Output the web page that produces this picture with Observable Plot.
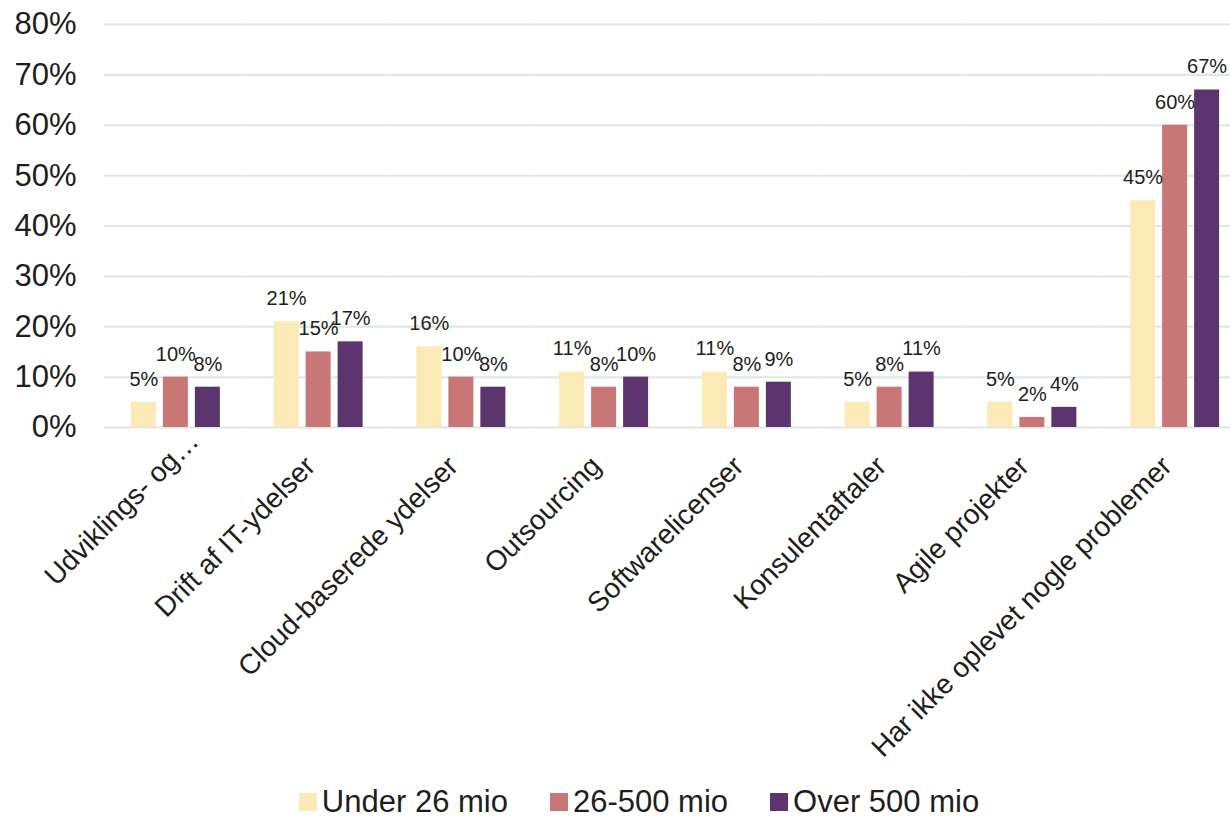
<!DOCTYPE html>
<html>
<head>
<meta charset="utf-8">
<script src="https://cdn.jsdelivr.net/npm/d3@7"></script>
<script src="https://cdn.jsdelivr.net/npm/@observablehq/plot@0.6"></script>
<style>
  html, body { margin: 0; padding: 0; background: #fff; overflow: hidden; }
  body { width: 1230px; height: 817px; font-family: "Liberation Sans", Arial, sans-serif; color: #201d1a; }
  #legend { display: flex; justify-content: center; align-items: center; height: 30px; line-height: 30px; margin-top: 5px; padding-left: 48px; font-size: 31px; }
  .item { display: flex; align-items: center; margin: 0 21px; }
  .sw { width: 18px; height: 18px; margin-right: 5px; }
</style>
</head>
<body>
<div id="chart"></div>
<div id="legend"></div>
<script>
const categories = [
  "Udviklings- og…",
  "Drift af IT-ydelser",
  "Cloud-baserede ydelser",
  "Outsourcing",
  "Softwarelicenser",
  "Konsulentaftaler",
  "Agile projekter",
  "Har ikke oplevet nogle problemer"
];
const series = ["Under 26 mio", "26-500 mio", "Over 500 mio"];
const under26 = [5, 21, 16, 11, 11, 5, 5, 45];
const mid26to500 = [10, 15, 10, 8, 8, 8, 2, 60];
const over500 = [8, 17, 8, 10, 9, 11, 4, 67];
const colors = ["#FBEAB5", "#C97677", "#5C356E"];
const yTicks = [0, 10, 20, 30, 40, 50, 60, 70, 80];

const valuesBySeries = [under26, mid26to500, over500];
const data = categories.flatMap((c, i) =>
  series.map((s, j) => ({cat: c, ser: s, v: valuesBySeries[j][i]}))
);

const firstCat = categories[0];
const chart = Plot.plot({
  width: 1230,
  height: 782,
  marginLeft: 104,
  marginRight: -16,
  marginTop: 24,
  marginBottom: 355,
  style: {fontFamily: '"Liberation Sans", Arial, sans-serif', color: "#201d1a", background: "#fff", overflow: "hidden"},
  fx: {domain: categories, padding: 0, round: false, label: null},
  x: {domain: series, axis: null, round: false, paddingInner: 0.21875, paddingOuter: 0.8406},
  y: {domain: [0, 80], axis: null},
  color: {domain: series, range: colors},
  marks: [
    Plot.gridY(yTicks, {stroke: "#dde8e5", strokeOpacity: 1, strokeWidth: 2}),
    Plot.barY(data, {fx: "cat", x: "ser", y: "v", fill: "ser"}),
    Plot.text(data, {fx: "cat", x: "ser", y: "v", text: d => d.v + "%", dy: -23, fontSize: 20, fill: "#201d1a"}),
    Plot.axisY(yTicks, {tickSize: 0, tickPadding: 28, tickFormat: d => d + "%", fontSize: 31, label: null}),
    Plot.axisFx({anchor: "bottom", tickRotate: -45, tickSize: 0, tickPadding: 28, fontSize: 28, label: null, dx: 18, dy: -19,
      tickFormat: d => d === firstCat ? d : ""}),
    Plot.axisFx({anchor: "bottom", tickRotate: -45, tickSize: 0, tickPadding: 28, fontSize: 28, label: null, dx: -8, dy: 6,
      tickFormat: d => d === firstCat ? "" : d})
  ]
});
document.getElementById("chart").appendChild(chart);

const legend = document.getElementById("legend");
series.forEach((s, i) => {
  const item = document.createElement("div");
  item.className = "item";
  const sw = document.createElement("div");
  sw.className = "sw";
  sw.style.background = colors[i];
  const label = document.createElement("span");
  label.textContent = s;
  item.appendChild(sw);
  item.appendChild(label);
  legend.appendChild(item);
});
</script>
</body>
</html>
